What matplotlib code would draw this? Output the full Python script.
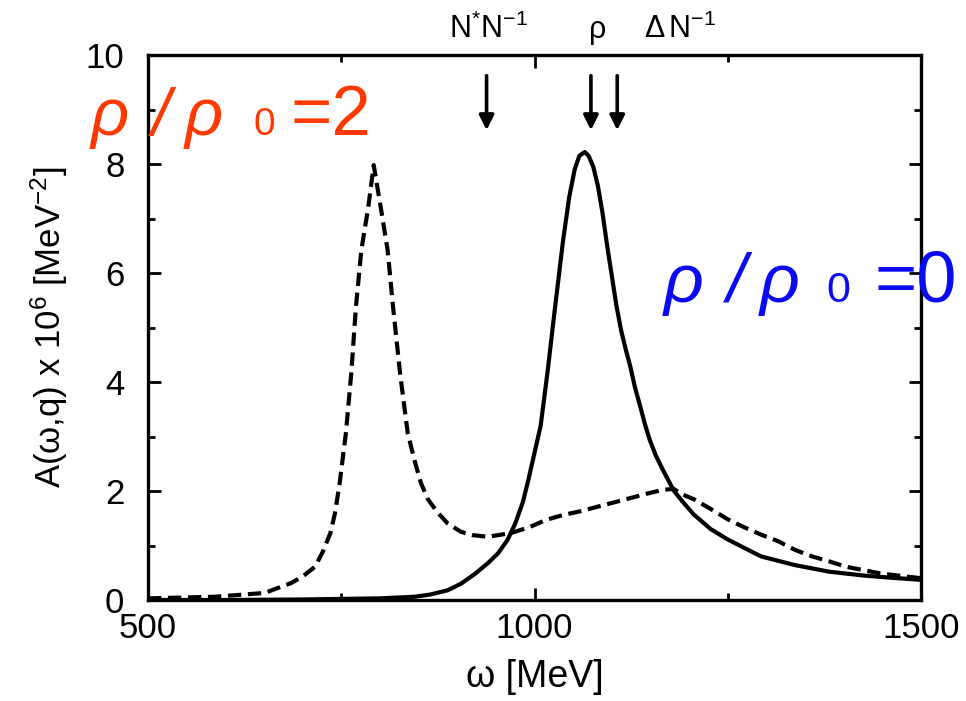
import matplotlib
matplotlib.use("Agg")
import matplotlib.pyplot as plt
from matplotlib.ticker import MultipleLocator

plt.rcParams['font.family'] = ['Liberation Sans', 'DejaVu Sans']
plt.rcParams['mathtext.fontset'] = 'custom'
plt.rcParams['mathtext.rm'] = 'Liberation Sans'
plt.rcParams['mathtext.it'] = 'Liberation Sans:italic'
plt.rcParams['mathtext.bf'] = 'Liberation Sans:bold'

# rho-meson spectral function in vacuum (rho/rho0 = 0)
omega_vac = [500, 600, 700, 800, 845, 865, 888, 905, 923, 940, 953, 965, 975, 985,
             992, 1000, 1008, 1017, 1026, 1037, 1045, 1052, 1058, 1065, 1070, 1076,
             1082, 1088, 1094, 1100, 1106, 1112, 1118, 1124, 1130, 1137, 1143, 1149,
             1157, 1166, 1173, 1180, 1193, 1206, 1228, 1250, 1293, 1337, 1381, 1425,
             1460, 1500]
A_vac = [0.0, 0.0, 0.01, 0.03, 0.06, 0.1, 0.18, 0.3, 0.48, 0.68, 0.86, 1.1, 1.4, 1.8,
         2.2, 2.7, 3.2, 4.2, 5.3, 6.6, 7.4, 7.9, 8.15, 8.22, 8.15, 7.95,
         7.6, 7.1, 6.5, 5.95, 5.4, 4.95, 4.6, 4.28, 3.9, 3.54, 3.22, 2.94,
         2.65, 2.39, 2.2, 2.01, 1.78, 1.57, 1.30, 1.11, 0.80, 0.64, 0.52, 0.45,
         0.41, 0.37]

# spectral function at twice nuclear matter density (rho/rho0 = 2)
omega_med = [500, 587, 651, 685, 700, 716, 726, 736, 742, 748, 756, 763, 769, 776,
             785, 792, 801, 810, 817, 826, 836, 845, 853, 862, 875, 888, 905, 920,
             940, 970, 994, 1015, 1037, 1060, 1081, 1100, 1124, 1145, 1166, 1180,
             1189, 1206, 1228, 1250, 1272, 1293, 1315, 1337, 1359, 1381, 1403, 1425,
             1447, 1469, 1500]
A_med = [0.03, 0.06, 0.13, 0.31, 0.43, 0.61, 0.88, 1.23, 1.6, 2.15, 3.06, 4.17, 5.38,
         6.42, 7.21, 7.98, 7.21, 6.42, 5.38, 4.17, 3.06, 2.55, 2.15, 1.85, 1.6, 1.4,
         1.25, 1.19, 1.16, 1.23, 1.34, 1.47, 1.56, 1.63, 1.71, 1.78, 1.87, 1.95,
         2.02, 2.04, 1.95, 1.85, 1.67, 1.48, 1.33, 1.20, 1.08, 0.92, 0.80, 0.71,
         0.61, 0.55, 0.49, 0.45, 0.40]

# excitation thresholds marked above the curves
marker_labels = [r"$\mathrm{N^{*}N^{-1}}$", "ρ", r"$\Delta\,\mathrm{N^{-1}}$"]
marker_arrow_omega = [938, 1073, 1107]
marker_label_omega = [941, 1082, 1188]

fig = plt.figure(figsize=(9.66, 7.01), dpi=100)
ax = fig.add_axes([148/966, 101/701, 773/966, 545/701])

ax.plot(omega_vac, A_vac, color='black', lw=3.0, solid_joinstyle='round')
ax.plot(omega_med, A_med, color='black', lw=3.0, dashes=(3.2, 1.6),
        dash_joinstyle='round')

ax.set_xlim(500, 1500)
ax.set_ylim(0, 10)
ax.xaxis.set_major_locator(MultipleLocator(500))
ax.xaxis.set_minor_locator(MultipleLocator(250))
ax.yaxis.set_major_locator(MultipleLocator(2))
ax.yaxis.set_minor_locator(MultipleLocator(1))
ax.tick_params(which='both', direction='in', top=True, right=True, width=2)
ax.tick_params(which='major', length=9)
ax.tick_params(which='minor', length=5)
ax.tick_params(axis='x', labelsize=25, pad=9)
ax.tick_params(axis='y', labelsize=25, pad=17)
for sp in ax.spines.values():
    sp.set_linewidth(2.4)

ax.set_xlabel("ω [MeV]", fontsize=27, labelpad=10)
ax.set_ylabel(r"A(ω,q) x 10$^6$ [MeV$^{-2}$]", fontsize=25, labelpad=11)

for lab, xa, xl in zip(marker_labels, marker_arrow_omega, marker_label_omega):
    ax.annotate('', xy=(xa, 8.62), xytext=(xa, 9.62),
                arrowprops=dict(arrowstyle='-|>', lw=2.6, color='black',
                                mutation_scale=22, shrinkA=0, shrinkB=0),
                annotation_clip=False)
    ax.text(xl, 10.32, lab, fontsize=22, ha='center', va='baseline',
            clip_on=False)


def density_label(pieces, base_y, color):
    for txt, xpix, size, style in pieces:
        fig.text(xpix/966, base_y, txt, fontsize=size, color=color,
                 style=style, ha='left', va='baseline')


orange = '#ff3a00'
blue = '#0a0af5'
density_label([("ρ", 91, 48, 'italic'), ("/", 152, 48, 'italic'),
               ("ρ", 185, 48, 'italic'), ("0", 254, 28, 'normal'),
               ("=2", 290, 51, 'normal')], (701-135)/701, orange)
density_label([("ρ", 664, 50, 'italic'), ("/", 727, 50, 'italic'),
               ("ρ", 760, 50, 'italic'), ("0", 826, 31, 'normal'),
               ("=0", 874, 52, 'normal')], (701-302)/701, blue)

fig.savefig("out.png", dpi=100)
